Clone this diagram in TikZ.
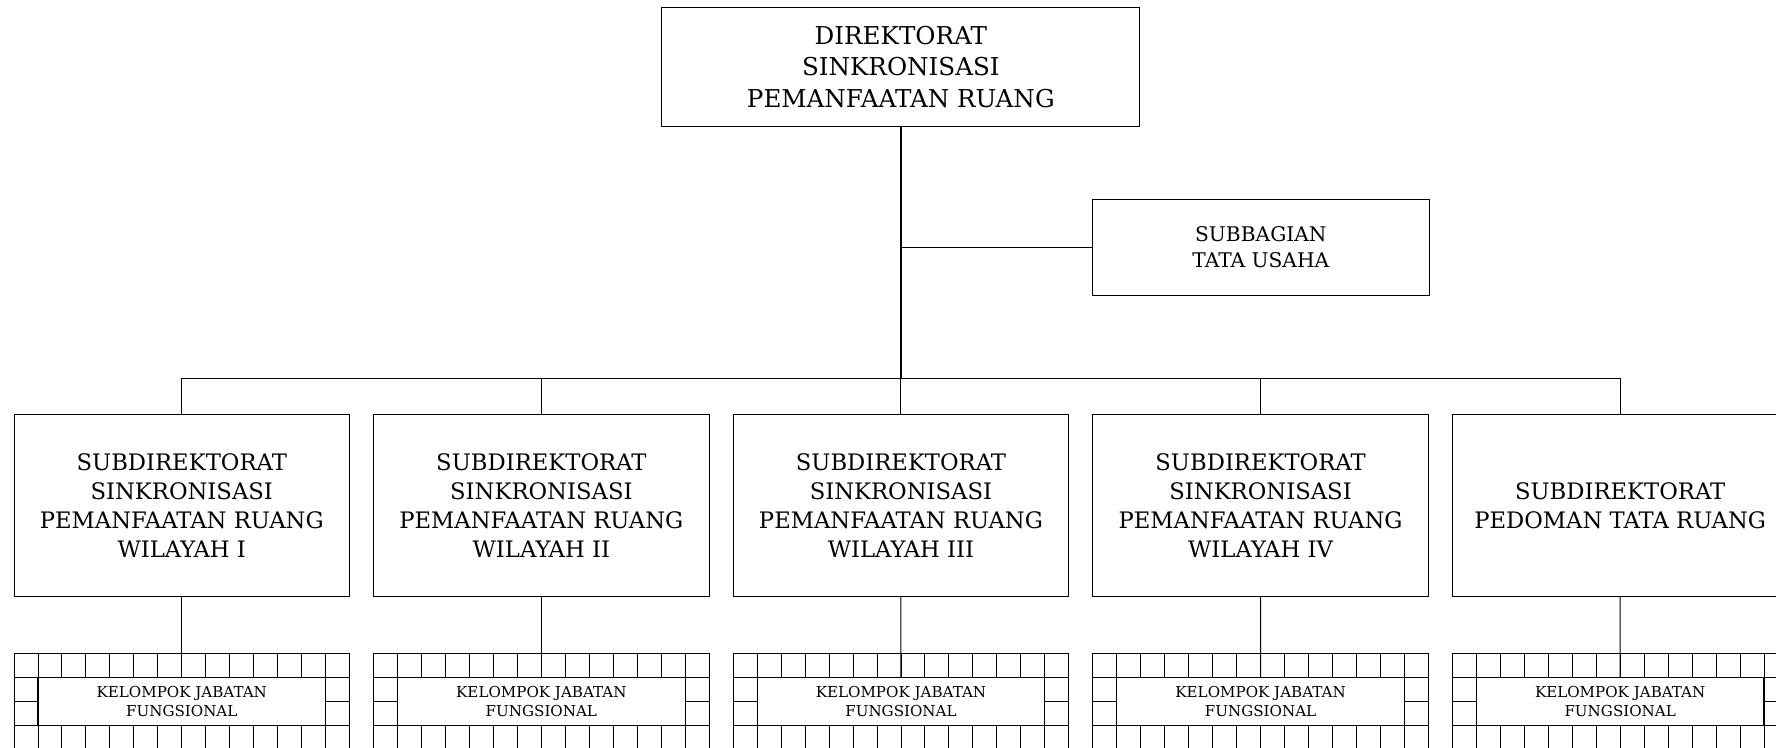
\documentclass[tikz,border=0pt]{standalone}
\usepackage{fontspec}
\setmainfont{DejaVu Serif}
\begin{document}
\begin{tikzpicture}[x=1pt,y=-1pt,
  box/.style={draw, line width=1pt, align=center, inner sep=0pt},
  link/.style={line width=1pt},
  trunk/.style={line width=2pt},
  cell/.style={line width=0.9pt},
  topfont/.style={font=\fontsize{24.6}{31.5}\selectfont},
  subfont/.style={font=\fontsize{22.7}{29}\selectfont},
  tufont/.style={font=\fontsize{20.2}{26}\selectfont},
  kjffont/.style={font=\fontsize{15.1}{19.3}\selectfont}]
\clip (0,0) rectangle (1776,747);

% directorate
\node[box, topfont, minimum width=478pt, minimum height=119.4pt] (dir) at (900.8,67)
  {DIREKTORAT\\SINKRONISASI\\PEMANFAATAN RUANG};

% administrative subsection
\node[box, tufont, minimum width=336.3pt, minimum height=95.7pt] (tu) at (1260.85,247.15)
  {SUBBAGIAN\\TATA USAHA};

% sub-directorates
\node[box, subfont, minimum width=335.5pt, minimum height=182.4pt] (s1) at (181.75,505.5)
  {SUBDIREKTORAT\\SINKRONISASI\\PEMANFAATAN RUANG\\WILAYAH I};
\node[box, subfont, minimum width=335.5pt, minimum height=182.4pt] (s2) at (541.35,505.5)
  {SUBDIREKTORAT\\SINKRONISASI\\PEMANFAATAN RUANG\\WILAYAH II};
\node[box, subfont, minimum width=335.5pt, minimum height=182.4pt] (s3) at (900.95,505.5)
  {SUBDIREKTORAT\\SINKRONISASI\\PEMANFAATAN RUANG\\WILAYAH III};
\node[box, subfont, minimum width=335.5pt, minimum height=182.4pt] (s4) at (1260.55,505.5)
  {SUBDIREKTORAT\\SINKRONISASI\\PEMANFAATAN RUANG\\WILAYAH IV};
\node[box, subfont, minimum width=335.5pt, minimum height=182.4pt] (s5) at (1620.15,505.5)
  {SUBDIREKTORAT\\PEDOMAN TATA RUANG};

% functional groups: label box inside a ring of grid cells
\foreach \i in {1,...,5} {
  \pgfmathsetmacro\L{14+(\i-1)*359.6}
  \pgfmathsetmacro\w{335.5/14}
  \pgfmathsetmacro\R{\L+335.5}
  \node[box, kjffont, minimum width=287.6pt, minimum height=48pt] (k\i) at (\L+167.75,701.3)
    {KELOMPOK JABATAN\\FUNGSIONAL};
  \foreach \yy in {653.3,677.3,725.3,749.3}
    \draw[cell] (\L,\yy) -- (\R,\yy);
  \foreach \c in {0,...,14} {
    \draw[cell] (\L+\c*\w,653.3) -- ++(0,24);
    \draw[cell] (\L+\c*\w,725.3) -- ++(0,24);
  }
  \foreach \c in {0,1,13,14}
    \draw[cell] (\L+\c*\w,677.3) -- ++(0,48);
  \draw[cell] (\L,701.3) -- ++(\w,0);
  \draw[cell] (\R,701.3) -- ++(-\w,0);
}

% connectors
\coordinate (bus) at (900.95,378.3);
\draw[trunk] (dir.south) -- (dir.south |- bus);
\draw[link] (dir.south |- tu.west) -- (tu.west);
\draw[link] (s1.north |- bus) -- (s5.north |- bus);
\foreach \i in {1,...,5} {
  \draw[link] (s\i.north) -- (s\i.north |- bus);
  \draw[link] (s\i.south) -- (k\i.north);
}
\end{tikzpicture}
\end{document}
